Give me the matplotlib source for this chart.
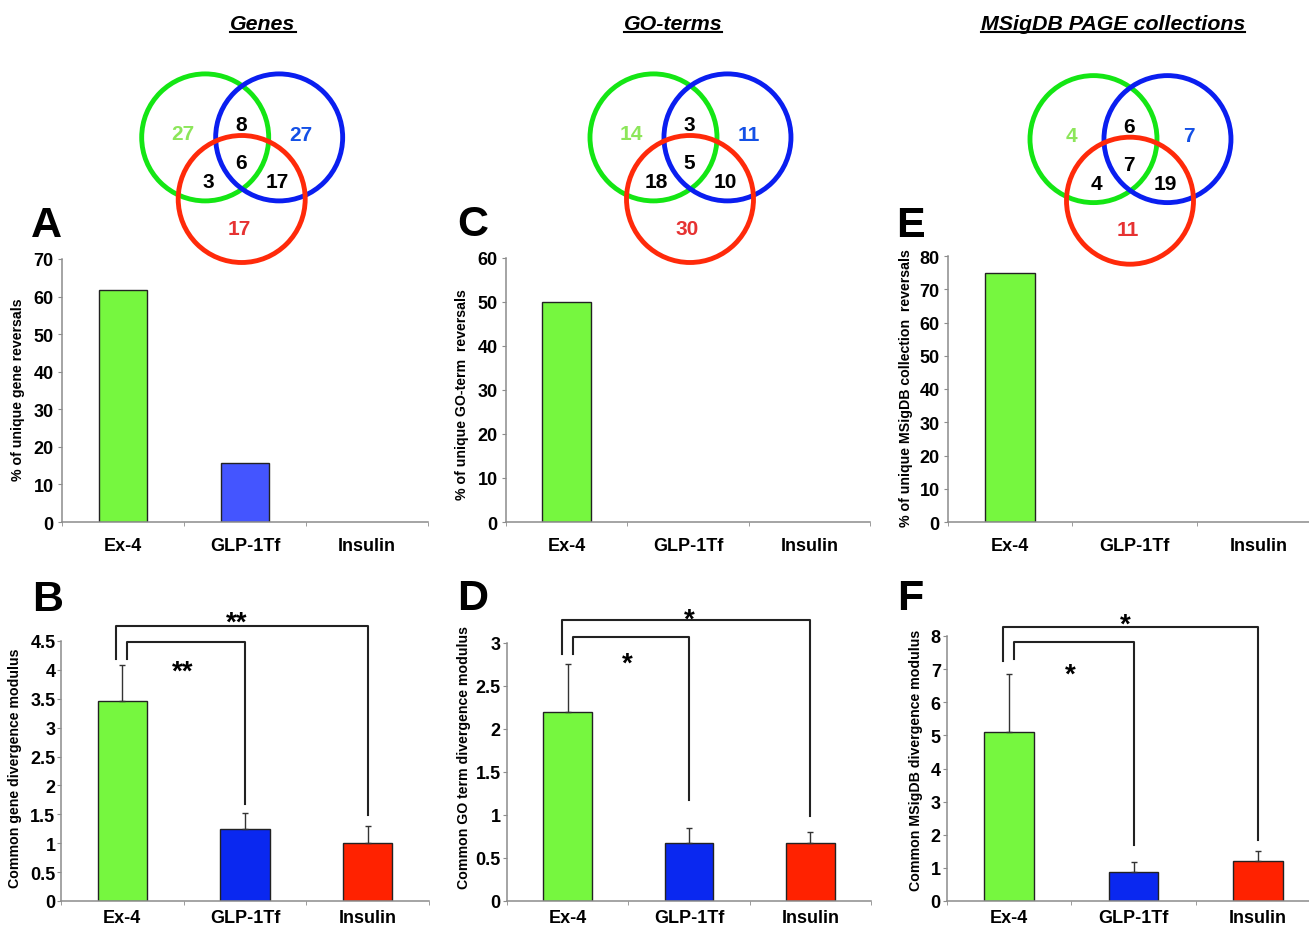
import matplotlib
matplotlib.use('Agg')
import matplotlib.pyplot as plt
import matplotlib.transforms as mtransforms
from matplotlib.patches import Circle
from matplotlib.lines import Line2D
import numpy as np

plt.rcParams['font.family'] = ['Liberation Sans', 'DejaVu Sans']
plt.rcParams['font.weight'] = 'bold'
plt.rcParams['axes.labelweight'] = 'bold'

W, H = 1309, 928

categories = ['Ex-4', 'GLP-1Tf', 'Insulin']

# % of unique reversals (top row)
genes_unique = [61.7, 15.7, 0]
go_unique = [50, 0, 0]
msig_unique = [75, 0, 0]

# common divergence modulus (bottom row), mean and upper error
genes_common = [3.47, 1.24, 1.00]
genes_common_err = [0.62, 0.28, 0.30]
go_common = [2.20, 0.67, 0.67]
go_common_err = [0.56, 0.18, 0.13]
msig_common = [5.09, 0.89, 1.21]
msig_common_err = [1.77, 0.30, 0.30]

# venn counts: green only, green&blue, blue only, all, green&red, blue&red, red only
genes_venn = [27, 8, 27, 6, 3, 17, 17]
go_venn = [14, 3, 11, 5, 18, 10, 30]
msig_venn = [4, 6, 7, 7, 4, 19, 11]

# brackets: (bar height, left leg end, right leg end, stars) for Ex-4 vs GLP-1Tf, Ex-4 vs Insulin
genes_brackets = [(4.48, 4.19, 1.68, '**'), (4.76, 4.19, 1.48, '**')]
go_brackets = [(3.07, 2.87, 1.18, '*'), (3.27, 2.87, 0.99, '*')]
msig_brackets = [(7.82, 7.30, 1.70, '*'), (8.27, 7.25, 1.83, '*')]
# star label positions (x, y) for the two brackets
genes_stars = [(0.49, 4.12), (0.93, 4.98)]
go_stars = [(0.49, 2.87), (1.0, 3.38)]
msig_stars = [(0.49, 7.10), (0.93, 8.6)]

GREEN = '#76F73F'
BLUE = '#0A28F0'
BLUE_LIGHT = '#4455FF'
RED = '#FF2200'
AXIS_GRAY = '#8C8C8C'


def px_rect(left, top, right, bottom):
    return [left / W, 1 - bottom / H, (right - left) / W, (bottom - top) / H]


fig = plt.figure(figsize=(W / 100, H / 100), dpi=100)


def bar_panel(rect, values, colors, ymax, ystep, ylabel, label_xy, xpad, ypad, errs=None):
    ax = fig.add_axes(px_rect(*rect))
    x = np.arange(len(categories))
    edge_w = [1 if v > 0 else 0 for v in values]
    ax.bar(x, values, width=0.4, color=colors, edgecolor='#222222', linewidth=edge_w, zorder=1)
    if errs is not None:
        ax.errorbar(x, values, yerr=[np.zeros(len(errs)), errs], fmt='none',
                    ecolor='#333333', elinewidth=1, capsize=2.5, capthick=1, zorder=2)
    ax.set_xlim(-0.5, 2.5)
    ax.set_ylim(0, ymax)
    ticks = np.arange(0, ymax + ystep / 2, ystep)
    ax.set_yticks(ticks)
    ax.set_yticklabels(['%g' % t for t in ticks])
    ax.set_xticks(x)
    ax.set_xticklabels(categories)
    ax.set_xticks([-0.5, 0.5, 1.5, 2.5], minor=True)
    for s in ['top', 'right']:
        ax.spines[s].set_visible(False)
    for s in ['left', 'bottom']:
        ax.spines[s].set_color(AXIS_GRAY)
        ax.spines[s].set_linewidth(1.1)
        ax.spines[s].set_zorder(3)
    ax.tick_params(axis='x', which='major', length=0, pad=xpad, labelsize=13)
    ax.tick_params(axis='x', which='minor', length=3, color=AXIS_GRAY)
    ax.tick_params(axis='y', length=3, color=AXIS_GRAY, pad=ypad, labelsize=13)
    ax.set_ylabel(ylabel, fontsize=10.2)
    ax.yaxis.set_label_coords(*label_xy)
    ax.patch.set_visible(False)
    return ax


def add_brackets(ax, brackets, stars):
    left_x = [0.04, -0.05]
    right_x = [1.0, 2.0]
    for (yb, yl, yr, txt), xl, xr, (sx, sy) in zip(brackets, left_x, right_x, stars):
        ax.plot([xl, xl, xr, xr], [yl, yb, yb, yr], color='#222222', lw=1.5,
                solid_joinstyle='round', clip_on=False, zorder=4)
        tr = mtransforms.offset_copy(ax.transData, fig=fig, y=-9, units='dots')
        ax.text(sx, sy, txt, transform=tr, ha='center', va='center', fontsize=20,
                clip_on=False)


# top row
ax_a = bar_panel((62, 260, 428, 523), genes_unique, [GREEN, BLUE_LIGHT, RED], 70, 10,
                 '% of unique gene reversals', (-0.101, 0.506), 11, 3)
ax_c = bar_panel((506, 259, 870, 523), go_unique, [GREEN, BLUE, RED], 60, 10,
                 '% of unique GO-term  reversals', (-0.102, 0.485), 11, 3)
ax_e = bar_panel((948, 257, 1321, 523), msig_unique, [GREEN, BLUE, RED], 80, 10,
                 '% of unique MSigDB collection  reversals', (-0.094, 0.507), 11, 3)

# bottom row
ax_b = bar_panel((61, 642, 429, 902), genes_common, [GREEN, BLUE, RED], 4.5, 0.5,
                 'Common gene divergence modulus', (-0.107, 0.515), 6, 1,
                 errs=genes_common_err)
ax_d = bar_panel((507, 644, 871, 902), go_common, [GREEN, BLUE, RED], 3, 0.5,
                 'Common GO term divergence modulus', (-0.099, 0.562), 6, 1.5,
                 errs=go_common_err)
ax_f = bar_panel((947, 637, 1320, 902), msig_common, [GREEN, BLUE, RED], 8, 1,
                 'Common MSigDB divergence modulus', (-0.064, 0.536), 6, 1.5,
                 errs=msig_common_err)

add_brackets(ax_b, genes_brackets, genes_stars)
add_brackets(ax_d, go_brackets, go_stars)
add_brackets(ax_f, msig_brackets, msig_stars)

# venn diagrams (unit layout, radius 1, red circle at origin)
R = 63.5
venn_centers = {'green': (-0.575, 0.97), 'blue': (0.59, 0.97), 'red': (0.0, 0.0)}
venn_edge = {'green': '#14E614', 'blue': '#0A1EF0', 'red': '#FF2A0A'}
region_pos = [(-0.93, 1.06), (-0.01, 1.20), (0.93, 1.05), (-0.01, 0.60),
              (-0.53, 0.30), (0.56, 0.30), (-0.04, -0.43)]
region_col = ['#8CE65A', 'black', '#1450E6', 'black', 'black', 'black', '#E63232']


def draw_venn(cx, cy, counts):
    x0, x1, y0, y1 = -1.8, 1.8, -1.25, 2.2
    ax = fig.add_axes(px_rect(cx + x0 * R, cy - y1 * R, cx + x1 * R, cy - y0 * R))
    ax.set_xlim(x0, x1)
    ax.set_ylim(y0, y1)
    ax.axis('off')
    for name in ['green', 'blue', 'red']:
        ax.add_patch(Circle(venn_centers[name], 1.0, fill=False,
                            edgecolor=venn_edge[name], linewidth=3.5))
    for n, (px, py), c in zip(counts, region_pos, region_col):
        ax.text(px, py - 0.03, str(n), ha='center', va='center', fontsize=15, color=c)


draw_venn(241.7, 200, genes_venn)
draw_venn(690, 200, go_venn)
draw_venn(1130, 201.7, msig_venn)

# titles with underline
titles = [('Genes', 263), ('GO-terms', 673), ('MSigDB PAGE collections', 1113)]
renderer = fig.canvas.get_renderer()
for txt, xc in titles:
    t = fig.text(xc / W, 1 - 30 / H, txt, ha='center', va='baseline', fontsize=15.4,
                 style='italic')
    bb = t.get_window_extent(renderer=renderer)
    fig.add_artist(Line2D([bb.x0 / W, bb.x1 / W], [1 - 33 / H, 1 - 33 / H],
                          color='black', lw=1.5, transform=fig.transFigure))

# panel letters
letters = [('A', 46.7, 237), ('B', 48, 611.5), ('C', 473, 236.5),
           ('D', 473, 610), ('E', 910, 236.7), ('F', 910, 610)]
for l, xc, yb in letters:
    fig.text(xc / W, 1 - yb / H, l, ha='center', va='baseline', fontsize=31)

fig.savefig('out.png', dpi=100)
